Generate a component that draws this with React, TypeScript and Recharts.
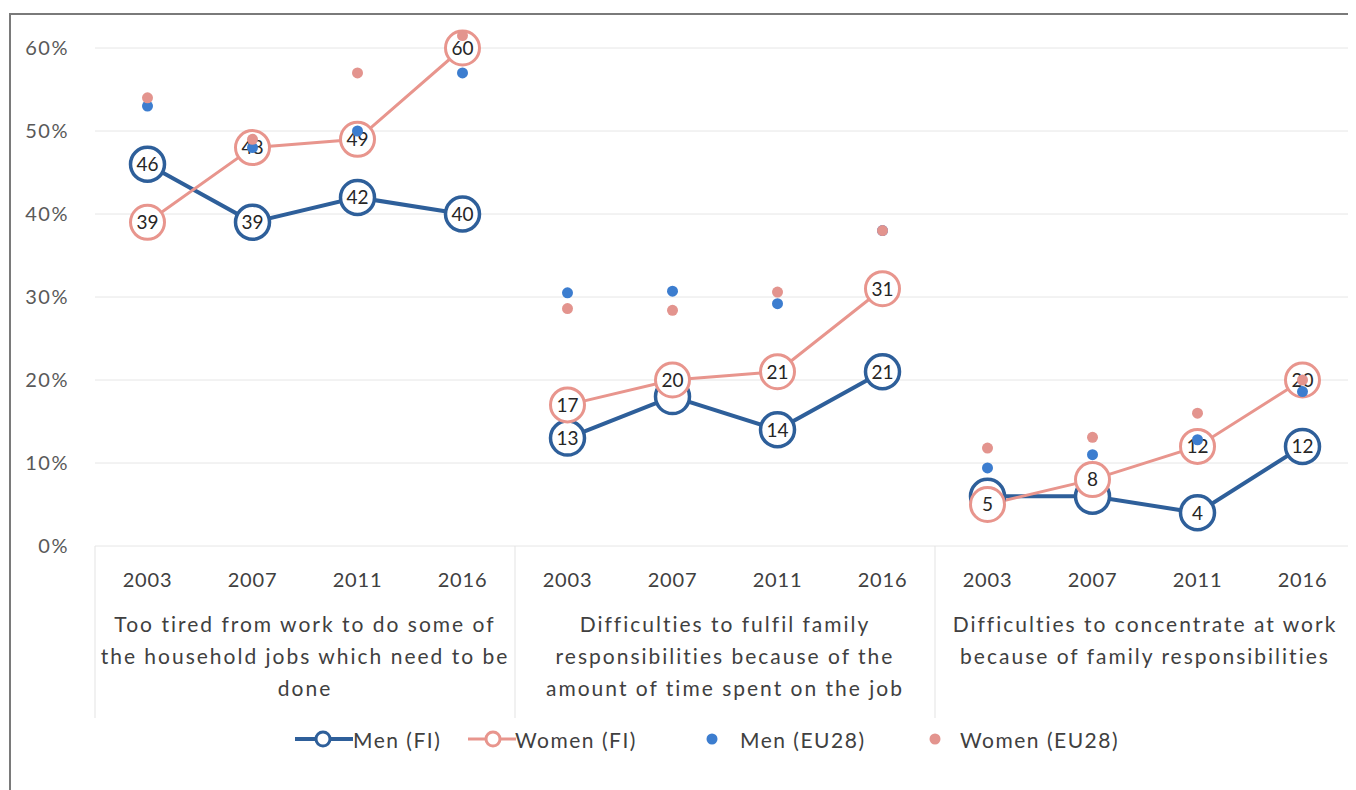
import React from 'react';
import { ComposedChart, Line, XAxis, YAxis, CartesianGrid } from 'recharts';

const years = ['2003', '2007', '2011', '2016'];
const groupLabels = [
  ['Too tired from work to do some of', 'the household jobs which need to be', 'done'],
  ['Difficulties to fulfil family', 'responsibilities because of the', 'amount of time spent on the job'],
  ['Difficulties to concentrate at work', 'because of family responsibilities'],
];

// values in %
const menFI = [46, 39, 42, 40, 13, 18, 14, 21, 6, 6, 4, 12];
const womenFI = [39, 48, 49, 60, 17, 20, 21, 31, 5, 8, 12, 20];
const menEU28 = [53, 48, 50, 57, 30.5, 30.7, 29.2, 38, 9.4, 11, 12.8, 18.6];
const womenEU28 = [54, 49, 57, 61.5, 28.6, 28.4, 30.6, 38, 11.8, 13.1, 16, 20];

const yTicks = [0, 10, 20, 30, 40, 50, 60];

const FONT = 'Lato, "Noto Sans", sans-serif';
const MEN_FI = '#2e5f9a';
const WOMEN_FI = '#e8958d';
const MEN_EU = '#3c7dcf';
const WOMEN_EU = '#e3948e';

const data = menFI.map((_, i) => {
  const g = Math.floor(i / 4);
  const row: any = {
    key: `${g}-${years[i % 4]}`,
    menEU28: menEU28[i],
    womenEU28: womenEU28[i],
  };
  [0, 1, 2].forEach((k) => {
    row[`men${k}`] = k === g ? menFI[i] : null;
    row[`women${k}`] = k === g ? womenFI[i] : null;
  });
  return row;
});

// men labels sit under the women circles when the two values are close
const menLabelHidden = (i: number) => Math.abs(menFI[i] - womenFI[i]) < 3;

const makeFIDot = (color: string, width: number, hide?: (i: number) => boolean) => (props: any) => {
  const { cx, cy, value, index } = props;
  if (cx == null || cy == null || value == null) return <g key={`e-${index}`} />;
  return (
    <g key={`d-${index}`}>
      <circle cx={cx} cy={cy} r={17} fill="#fff" stroke={color} strokeWidth={width} />
      {!(hide && hide(index)) && (
        <text x={cx} y={cy} dy="0.36em" textAnchor="middle" fontSize={19} fill="#262626" fontFamily={FONT}>
          {value}
        </text>
      )}
    </g>
  );
};

const XTick = (props: any) => {
  const { x, y, payload } = props;
  const i = data.findIndex((d) => d.key === payload.value);
  const half = payload.offset || 52.5;
  const g = Math.floor(i / 4);
  const pos = i % 4;
  return (
    <g>
      <text x={x} y={y + 34} dy="0.36em" textAnchor="middle" fontSize={20} letterSpacing={0.8} fill="#404040" fontFamily={FONT}>
        {years[pos]}
      </text>
      {pos === 0 && (
        <g>
          <line x1={x - half} x2={x - half} y1={y} y2={y + 172} stroke="#e3e3e3" />
          <text textAnchor="middle" fontSize={21} letterSpacing={2} fill="#404040" fontFamily={FONT}>
            {groupLabels[g].map((l, j) => (
              <tspan key={j} x={x + 3 * half} y={y + 86 + 32 * j}>
                {l}
              </tspan>
            ))}
          </text>
        </g>
      )}
    </g>
  );
};

const legendText: React.CSSProperties = {
  position: 'absolute',
  top: 731,
  transform: 'translateY(-50%)',
  fontSize: 21,
  letterSpacing: 1.5,
  color: '#404040',
  whiteSpace: 'nowrap',
};

export default function App() {
  return (
    <div style={{ position: 'relative', width: 1348, height: 782, fontFamily: FONT }}>
      <div
        style={{
          position: 'absolute',
          left: 1,
          top: 5,
          right: 0,
          bottom: 0,
          borderLeft: '2px solid #7a7a7a',
          borderTop: '2px solid #7a7a7a',
        }}
      />
      <ComposedChart
        width={1348}
        height={782}
        data={data}
        margin={{ top: 23.4, right: 1, left: 27, bottom: 0 }}
      >
        <CartesianGrid vertical={false} stroke="#e6e6e6" horizontalValues={yTicks} />
        <XAxis
          dataKey="key"
          scale="band"
          interval={0}
          height={244}
          axisLine={false}
          tickLine={false}
          tickSize={0}
          tickMargin={0}
          tick={<XTick />}
        />
        <YAxis
          domain={[0, 62]}
          ticks={yTicks}
          width={60}
          axisLine={false}
          tickLine={false}
          tickSize={0}
          tickMargin={26}
          tickFormatter={(v: number) => `${v}%`}
          tick={{ fontSize: 20, letterSpacing: 1.5, fill: '#595959', fontFamily: FONT }}
        />
        {[0, 1, 2].map((k) => (
          <Line
            key={`men${k}`}
            dataKey={`men${k}`}
            stroke={MEN_FI}
            strokeWidth={4}
            dot={makeFIDot(MEN_FI, 3.5, menLabelHidden)}
            activeDot={false}
            connectNulls={false}
            isAnimationActive={false}
          />
        ))}
        {[0, 1, 2].map((k) => (
          <Line
            key={`women${k}`}
            dataKey={`women${k}`}
            stroke={WOMEN_FI}
            strokeWidth={3}
            dot={makeFIDot(WOMEN_FI, 3)}
            activeDot={false}
            connectNulls={false}
            isAnimationActive={false}
          />
        ))}
        <Line
          dataKey="menEU28"
          stroke="none"
          strokeWidth={0}
          dot={{ r: 5.5, fill: MEN_EU, stroke: 'none' }}
          activeDot={false}
          isAnimationActive={false}
        />
        <Line
          dataKey="womenEU28"
          stroke="none"
          strokeWidth={0}
          dot={{ r: 5.5, fill: WOMEN_EU, stroke: 'none' }}
          activeDot={false}
          isAnimationActive={false}
        />
      </ComposedChart>

      <svg style={{ position: 'absolute', left: 287, top: 721 }} width={58} height={20}>
        <line x1={0} x2={58} y1={10} y2={10} stroke={MEN_FI} strokeWidth={4} />
        <circle cx={28} cy={10} r={7} fill="#fff" stroke={MEN_FI} strokeWidth={3} />
      </svg>
      <div style={{ ...legendText, left: 345 }}>Men (FI)</div>
      <svg style={{ position: 'absolute', left: 460, top: 721 }} width={48} height={20}>
        <line x1={0} x2={48} y1={10} y2={10} stroke={WOMEN_FI} strokeWidth={3} />
        <circle cx={25} cy={10} r={7} fill="#fff" stroke={WOMEN_FI} strokeWidth={3} />
      </svg>
      <div style={{ ...legendText, left: 507 }}>Women (FI)</div>
      <svg style={{ position: 'absolute', left: 698, top: 725 }} width={12} height={12}>
        <circle cx={6} cy={6} r={5.5} fill={MEN_EU} />
      </svg>
      <div style={{ ...legendText, left: 732 }}>Men (EU28)</div>
      <svg style={{ position: 'absolute', left: 921, top: 725 }} width={12} height={12}>
        <circle cx={6} cy={6} r={5.5} fill={WOMEN_EU} />
      </svg>
      <div style={{ ...legendText, left: 952 }}>Women (EU28)</div>
    </div>
  );
}
